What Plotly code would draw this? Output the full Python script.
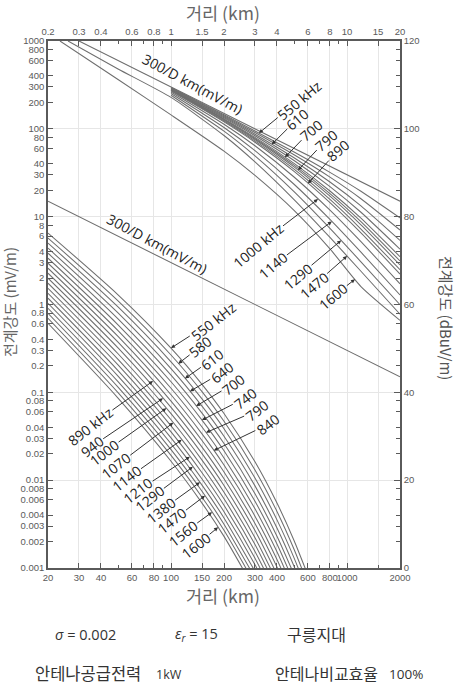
import numpy as np
import plotly.graph_objects as go

# ---------------- data ----------------
# Upper family (distance on the TOP axis, km) -> field strength (mV/m)
top_ref_dist = [0.3, 20]
top_ref_E = [1000, 15]

top_dist = [1, 2, 3, 5, 8, 12, 20]
top_freqs = [550, 580, 610, 640, 700, 740, 790, 840, 890, 1000, 1140, 1290, 1470]
top_E = {
    550: [294.8, 144.7, 94.6, 54.5, 31.97, 19.46, 9.68],
    580: [291.1, 140.9, 90.75, 50.6, 28.16, 16.0, 7.05],
    610: [287.4, 137.1, 86.9, 46.9, 24.8, 13.27, 5.36],
    640: [283.9, 133.5, 83.4, 43.55, 22.0, 11.23, 4.27],
    700: [280.4, 129.9, 79.9, 40.4, 19.6, 9.6, 3.50],
    740: [278.2, 127.8, 77.7, 38.6, 18.3, 8.78, 3.13],
    790: [276.0, 125.6, 75.7, 36.9, 17.1, 8.05, 2.82],
    840: [273.2, 122.7, 73.0, 34.8, 15.7, 7.23, 2.49],
    890: [270.3, 119.9, 70.4, 32.8, 14.45, 6.54, 2.22],
    1000: [262.9, 112.9, 64.2, 28.3, 11.87, 5.19, 1.72],
    1140: [252.5, 103.5, 56.5, 23.4, 9.3, 3.94, 1.286],
    1290: [241.1, 94.0, 49.2, 19.3, 7.36, 3.06, 0.993],
    1470: [227.9, 83.9, 42.0, 15.65, 5.8, 2.39, 0.775],
}
top_1470_lead_dist = [0.26, 0.5]
top_1470_lead_E = [1000, 480]
top_1600_dist = [0.234, 0.5, 1, 2, 3, 5, 8, 12, 20]
top_1600_E = [1000, 364, 144, 55.7, 29.5, 11.8, 4.3, 1.6, 0.66]

top_label_freq = [550, 610, 700, 790, 890, 1000, 1140, 1290, 1470, 1600]
top_label_text = ["550 kHz", "610", "700", "790", "890", "1000 kHz", "1140", "1290", "1470", "1600"]
top_label_dist = [3.16, 3.74, 4.44, 5.27, 6.0, 6.84, 8.2, 9.26, 10.0, 11.1]

# Lower family (distance on the BOTTOM axis, km)
bot_ref_dist = [20, 2000]
bot_ref_E = [15, 0.15]

bot_dist = [20, 50, 100, 150, 200, 300, 400, 500, 600]
bot_freqs = [550, 580, 610, 640, 700, 740, 790, 840, 890, 940, 1000,
             1070, 1140, 1210, 1290, 1380, 1470, 1560, 1600]
bot_E = {
    550: [6.50, 1.29, 0.319, 0.1234, 0.0574, 0.0162, 0.00549, 0.00206, 0.000823],
    580: [5.70, 1.10, 0.266, 0.1017, 0.0469, 0.01308, 0.00440, 0.001636, 0.00065],
    610: [5.00, 0.938, 0.2225, 0.0841, 0.0385, 0.01059, 0.00353, 0.001305, 0.000516],
    640: [4.38, 0.802, 0.1865, 0.0697, 0.0316, 0.00861, 0.00285, 0.001046, 0.000411],
    700: [3.84, 0.686, 0.1567, 0.0579, 0.0261, 0.00702, 0.002305, 0.000842],
    740: [3.37, 0.588, 0.1319, 0.0483, 0.0216, 0.00575, 0.001874, 0.000681],
    790: [2.95, 0.504, 0.1112, 0.0403, 0.0179, 0.00472, 0.001528, 0.000552],
    840: [2.59, 0.433, 0.0939, 0.0337, 0.01487, 0.00389, 0.00125, 0.000449],
    890: [2.27, 0.372, 0.0795, 0.0283, 0.0124, 0.00321, 0.001026, 0.000367],
    940: [1.99, 0.320, 0.0674, 0.0238, 0.01037, 0.002665, 0.000846],
    1000: [1.75, 0.275, 0.0573, 0.02006, 0.00869, 0.002215, 0.000699],
    1070: [1.53, 0.2374, 0.0487, 0.01693, 0.00729, 0.001846, 0.00058],
    1140: [1.34, 0.205, 0.0415, 0.01433, 0.00614, 0.001543, 0.000482],
    1210: [1.18, 0.1769, 0.03545, 0.01215, 0.00518, 0.001293, 0.000402],
    1290: [1.03, 0.1528, 0.0303, 0.01032, 0.00438, 0.001086, 0.000336],
    1380: [0.905, 0.1322, 0.02596, 0.00878, 0.00371, 0.000916],
    1470: [0.793, 0.1145, 0.02226, 0.00749, 0.003155, 0.000774],
    1560: [0.696, 0.0992, 0.01912, 0.0064, 0.002686, 0.000655],
    1600: [0.610, 0.086, 0.01644, 0.00548, 0.00229, 0.000556],
}
bot_label_text = ["550 kHz", "580", "610", "640", "700", "740", "790", "840",
                  "890 kHz", "940", "1000", "1070", "1140", "1210", "1290",
                  "1380", "1470", "1560", "1600"]
bot_label_dist = [100, 110, 120, 128, 139, 150, 158, 175,
                  79, 90, 94, 103, 115, 128, 133, 146, 156, 171, 185]

# Axis ticks
top_ticks = [0.2, 0.3, 0.4, 0.6, 0.8, 1, 1.5, 2, 3, 4, 6, 8, 10, 15, 20]
top_minor = [0.5, 0.7, 0.9, 5, 7, 9]
bot_ticks = [20, 30, 40, 60, 80, 100, 150, 200, 300, 400, 600, 800, 1000, 2000]
bot_minor = [50, 70, 90, 500, 700, 900, 1500]
left_ticks = [1000, 800, 600, 400, 300, 200, 100, 80, 60, 40, 30, 20, 10, 8, 6, 4, 3, 2,
              1, 0.8, 0.6, 0.4, 0.3, 0.2, 0.1, 0.08, 0.06, 0.04, 0.03, 0.02,
              0.01, 0.008, 0.006, 0.004, 0.003, 0.002, 0.001]
right_major = [0.001, 0.01, 0.1, 1, 10, 100, 1000]
right_labels = ["0", "20", "40", "60", "80", "100", "120"]

# ---------------- styles ----------------
LINE = dict(color="#6e6e6e", width=1.05)
AX = "#5a5a5a"
TICKFONT = dict(family="Liberation Sans, Arial", size=9.5, color="#5a5a5a")
LBLFONT = dict(family="Open Sans, Noto Sans", size=14, color="#222")
KFONT = "Noto Sans CJK KR"

top_label_off = [(40, -33), (25, -25), (26, -27), (28, -30), (30, -33),
                 (-60, 46), (-59, 44), (-43, 36), (-33, 29), (-22, 17)]
bot_label_off = [(42, -27), (22, -17), (27, -19), (32, -19), (37, -22), (43, -22), (51, -22), (54, -26),
                 (-63, 45), (-71, 48), (-62, 44), (-57, 43), (-55, 39), (-52, 34), (-43, 32),
                 (-39, 28), (-33, 25), (-29, 21), (-22, 18)]

fig = go.Figure()

# Upper family
fig.add_trace(go.Scatter(x=top_ref_dist, y=top_ref_E, xaxis="x2", yaxis="y",
                         mode="lines", line=LINE, hoverinfo="skip"))
for f in top_freqs:
    xs, ys = list(top_dist), list(top_E[f])
    if f == 1470:
        xs = top_1470_lead_dist + xs
        ys = top_1470_lead_E + ys
    fig.add_trace(go.Scatter(x=xs, y=ys, xaxis="x2", yaxis="y", mode="lines",
                             line=dict(LINE, shape="spline", smoothing=0.6), hoverinfo="skip"))
fig.add_trace(go.Scatter(x=top_1600_dist, y=top_1600_E, xaxis="x2", yaxis="y", mode="lines",
                         line=dict(LINE, shape="spline", smoothing=0.6), hoverinfo="skip"))

# Lower family
fig.add_trace(go.Scatter(x=bot_ref_dist, y=bot_ref_E, xaxis="x", yaxis="y2",
                         mode="lines", line=LINE, hoverinfo="skip"))
for f in bot_freqs:
    ys = bot_E[f]
    fig.add_trace(go.Scatter(x=bot_dist[:len(ys)], y=ys, xaxis="x", yaxis="y", mode="lines",
                             line=dict(LINE, shape="spline", smoothing=0.7), hoverinfo="skip"))


def loglog(xs, ys, x):
    return float(np.interp(np.log10(x), np.log10(xs), np.log10(ys)))


annotations = []
# labels for the upper family
for f, t, d, (dx, dy) in zip(top_label_freq, top_label_text, top_label_dist, top_label_off):
    if f == 1600:
        ly = loglog(top_1600_dist, top_1600_E, d)
    else:
        ly = loglog(top_dist, top_E[f], d)
    annotations.append(dict(x=np.log10(d), y=ly, xref="x2", yref="y", text=t,
                            showarrow=True, arrowhead=2, arrowsize=0.8, arrowwidth=1,
                            arrowcolor="#333", ax=dx, ay=dy, textangle=-40,
                            font=LBLFONT, standoff=0))
# labels for the lower family
for f, t, d, (dx, dy) in zip(bot_freqs, bot_label_text, bot_label_dist, bot_label_off):
    ys = bot_E[f]
    ly = loglog(bot_dist[:len(ys)], ys, d)
    annotations.append(dict(x=np.log10(d), y=ly, xref="x", yref="y", text=t,
                            showarrow=True, arrowhead=2, arrowsize=0.8, arrowwidth=1,
                            arrowcolor="#333", ax=dx, ay=dy, textangle=-38,
                            font=LBLFONT, standoff=0))


# text placed in plot-area pixel coordinates (plot area: x 48..400, y 41..568)
def P(px, py):
    return (px - 48) / 352.0, (568 - py) / 527.0


def txt(px, py, s, size, color="#333", family=KFONT, angle=0):
    x, y = P(px, py)
    annotations.append(dict(x=x, y=y, xref="paper", yref="paper", text=s, showarrow=False,
                            textangle=angle, xanchor="center", yanchor="middle",
                            font=dict(family=family, size=size, color=color)))


SANS = "Open Sans, Noto Sans"
txt(192, 84, "300/D km(mV/m)", 14, "#222", SANS, 28)
txt(157, 243, "300/D km(mV/m)", 14, "#222", SANS, 28)
txt(223, 13, "거리 (km)", 17.5, "#666")
txt(223, 595, "거리 (km)", 17.5, "#666")
txt(9, 302, "전계강도 (mV/m)", 15, "#666", angle=-90)
txt(447, 318, "전계강도 (dBuV/m)", 15, "#555", angle=90)
txt(85, 634, "<i>σ</i> = 0.002", 14.5, "#333", SANS)
txt(196, 634, "<i>ε</i><sub><i>r</i></sub> = 15", 14.5, "#333", SANS)
txt(316, 634, "구릉지대", 16, "#333")
txt(88, 673, "안테나공급전력", 16.5, "#333")
txt(169, 674, "1kW", 12.5, "#333", SANS)
txt(326, 673, "안테나비교효율", 16, "#333")
txt(406, 674, "100%", 13.5, "#333", SANS)

axis_common = dict(type="log", showline=True, linecolor=AX, linewidth=1.5, ticks="inside",
                   ticklen=5, tickwidth=1.2, tickcolor=AX, tickfont=TICKFONT, zeroline=False,
                   tickangle=0, tickmode="array")

fig.update_layout(
    width=460, height=684,
    margin=dict(l=48, r=60, t=41, b=116),
    paper_bgcolor="white", plot_bgcolor="white",
    showlegend=False,
    xaxis=dict(axis_common, range=[np.log10(20), np.log10(2000)],
               tickvals=bot_ticks, ticktext=[f"{v:g}" for v in bot_ticks],
               showgrid=False, domain=[0, 1], anchor="y",
               minor=dict(tickmode="array", tickvals=bot_minor, ticks="inside", ticklen=3,
                          tickcolor=AX, showgrid=False)),
    xaxis2=dict(axis_common, range=[np.log10(0.2), np.log10(20)], overlaying="x", side="top",
                anchor="y", tickvals=top_ticks, ticktext=[f"{v:g}" for v in top_ticks],
                showgrid=True, gridcolor="#e6e6e6", gridwidth=1,
                minor=dict(tickmode="array", tickvals=top_minor, ticks="inside", ticklen=3,
                           tickcolor=AX, showgrid=False)),
    yaxis=dict(axis_common, range=[-3, 3], tickvals=left_ticks,
               ticktext=[f"{v:g}" for v in left_ticks], showgrid=False, domain=[0, 1],
               anchor="x"),
    yaxis2=dict(axis_common, range=[-3, 3], overlaying="y", side="right", anchor="x",
                tickvals=right_major, ticktext=right_labels, ticklen=6,
                showgrid=True, gridcolor="#e6e6e6", gridwidth=1,
                minor=dict(tickmode="array", tickvals=left_ticks, ticks="inside", ticklen=4,
                           tickcolor=AX, showgrid=False)),
    annotations=annotations,
)

fig.write_html("out.html")
